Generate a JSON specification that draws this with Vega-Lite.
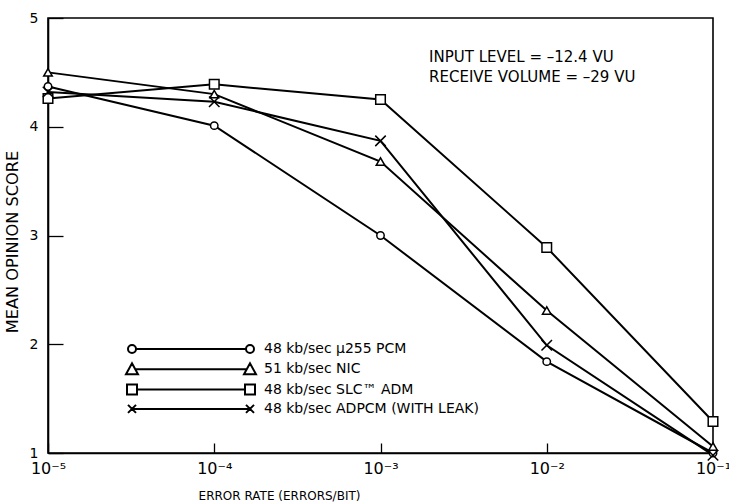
{
  "$schema": "https://vega.github.io/schema/vega-lite/v6.json",
  "width": 665,
  "height": 435,
  "autosize": {"type": "none"},
  "padding": {"left": 48, "top": 18, "right": 16, "bottom": 51},
  "background": "white",
  "config": {
    "font": "DejaVu Sans",
    "view": {"stroke": "black", "strokeWidth": 1.6},
    "axis": {"domainColor": "black", "domainWidth": 1.6, "tickColor": "black", "tickWidth": 1.3, "labelColor": "black", "titleColor": "black", "grid": false, "labelFont": "DejaVu Sans", "titleFont": "DejaVu Sans", "titleFontWeight": "normal"}
  },
  "datasets": {
    "scores": [
      {"series": "48 kb/sec \u03bc255 PCM", "rate": 0.00001, "mos": 4.37},
      {"series": "48 kb/sec \u03bc255 PCM", "rate": 0.0001, "mos": 4.01},
      {"series": "48 kb/sec \u03bc255 PCM", "rate": 0.001, "mos": 3.0},
      {"series": "48 kb/sec \u03bc255 PCM", "rate": 0.01, "mos": 1.84},
      {"series": "48 kb/sec \u03bc255 PCM", "rate": 0.1, "mos": 1.0},
      {"series": "51 kb/sec NIC", "rate": 0.00001, "mos": 4.5},
      {"series": "51 kb/sec NIC", "rate": 0.0001, "mos": 4.3},
      {"series": "51 kb/sec NIC", "rate": 0.001, "mos": 3.68},
      {"series": "51 kb/sec NIC", "rate": 0.01, "mos": 2.31},
      {"series": "51 kb/sec NIC", "rate": 0.1, "mos": 1.06},
      {"series": "48 kb/sec SLC\u2122 ADM", "rate": 0.00001, "mos": 4.26},
      {"series": "48 kb/sec SLC\u2122 ADM", "rate": 0.0001, "mos": 4.39},
      {"series": "48 kb/sec SLC\u2122 ADM", "rate": 0.001, "mos": 4.25},
      {"series": "48 kb/sec SLC\u2122 ADM", "rate": 0.01, "mos": 2.89},
      {"series": "48 kb/sec SLC\u2122 ADM", "rate": 0.1, "mos": 1.29},
      {"series": "48 kb/sec ADPCM (WITH LEAK)", "rate": 0.00001, "mos": 4.32},
      {"series": "48 kb/sec ADPCM (WITH LEAK)", "rate": 0.0001, "mos": 4.23},
      {"series": "48 kb/sec ADPCM (WITH LEAK)", "rate": 0.001, "mos": 3.87},
      {"series": "48 kb/sec ADPCM (WITH LEAK)", "rate": 0.01, "mos": 1.99},
      {"series": "48 kb/sec ADPCM (WITH LEAK)", "rate": 0.1, "mos": 0.98}
    ],
    "notes": [
      {"note": "conditions"}
    ]
  },
  "layer": [
    {
      "data": {"name": "scores"},
      "mark": {"type": "line", "color": "black", "strokeWidth": 2},
      "encoding": {
        "x": {
          "field": "rate", "type": "quantitative",
          "scale": {"type": "log", "domain": [0.00001, 0.1], "nice": false},
          "axis": {
            "title": "ERROR RATE (ERRORS/BIT)",
            "values": [0.00001, 0.0001, 0.001, 0.01, 0.1],
            "labelExpr": "'10\u207b' + ['','\u00b9','\u00b2','\u00b3','\u2074','\u2075'][round(-log(datum.value)/LN10)]",
            "tickSize": -10,
            "labelPadding": 17,
            "labelFontSize": 16,
            "labelFlush": false,
            "labelOverlap": false,
            "labelBound": false,
            "titleFontSize": 12,
            "titleX": 231,
            "titleY": 42,
            "titleBaseline": "middle",
            "titleAlign": "center"
          }
        },
        "y": {
          "field": "mos", "type": "quantitative",
          "scale": {"domain": [1, 5], "nice": false, "zero": false},
          "axis": {
            "title": "MEAN OPINION SCORE",
            "values": [1, 2, 3, 4, 5],
            "format": "d",
            "tickSize": -15,
            "labelPadding": 25,
            "labelFontSize": 14,
            "labelFlush": false,
            "labelOverlap": false,
            "titleFontSize": 16.2,
            "titleX": -36,
            "titleY": 223.5,
            "titleAngle": -90,
            "titleBaseline": "middle",
            "titleAlign": "center"
          }
        },
        "detail": {"field": "series"}
      }
    },
    {
      "data": {"name": "scores"},
      "mark": {"type": "point", "filled": true, "fill": "white", "stroke": "black", "strokeWidth": 1.5, "opacity": 1},
      "encoding": {
        "x": {"field": "rate", "type": "quantitative"},
        "y": {"field": "mos", "type": "quantitative"},
        "shape": {
          "field": "series", "type": "nominal",
          "scale": {
            "domain": ["48 kb/sec \u03bc255 PCM", "51 kb/sec NIC", "48 kb/sec SLC\u2122 ADM", "48 kb/sec ADPCM (WITH LEAK)"],
            "range": ["circle", "triangle-up", "square", "M-1,-1L1,1M-1,1L1,-1"]
          },
          "legend": null
        },
        "size": {
          "field": "series", "type": "nominal",
          "scale": {
            "domain": ["48 kb/sec \u03bc255 PCM", "51 kb/sec NIC", "48 kb/sec SLC\u2122 ADM", "48 kb/sec ADPCM (WITH LEAK)"],
            "range": [55, 110, 95, 60]
          },
          "legend": null
        }
      }
    },
    {
      "data": {"name": "scores"},
      "transform": [{"filter": "datum.rate > 1"}],
      "mark": {"type": "point", "color": "black", "opacity": 1},
      "encoding": {
        "x": {"field": "rate", "type": "quantitative"},
        "y": {"field": "mos", "type": "quantitative"},
        "shape": {
          "field": "series", "type": "nominal",
          "scale": {
            "domain": ["48 kb/sec \u03bc255 PCM", "51 kb/sec NIC", "48 kb/sec SLC\u2122 ADM", "48 kb/sec ADPCM (WITH LEAK)"],
            "range": [
              "M0.8,0L22.8,0M-0.8,0A0.8,0.8 0 1,0 0.8,0A0.8,0.8 0 1,0 -0.8,0ZM22.8,0A0.8,0.8 0 1,0 24.4,0A0.8,0.8 0 1,0 22.8,0Z",
              "M0.6,0L23,0M-1.2,1L0,-1.2L1.2,1ZM22.4,1L23.6,-1.2L24.8,1Z",
              "M1,0L22.6,0M-1,-1H1V1H-1ZM22.6,-1H24.6V1H22.6Z",
              "M0,0L23.6,0M-0.8,-0.8L0.8,0.8M-0.8,0.8L0.8,-0.8M22.8,-0.8L24.4,0.8M22.8,0.8L24.4,-0.8"
            ]
          },
          "legend": {
            "title": null,
            "orient": "none",
            "legendX": 77,
            "legendY": 324,
            "labelOffset": 125,
            "labelFontSize": 14,
            "labelLimit": 400,
            "labelColor": "black",
            "symbolStrokeWidth": 2,
            "rowPadding": 2.3
          }
        }
      }
    },
    {
      "data": {"name": "notes"},
      "mark": {"type": "text", "align": "left", "baseline": "alphabetic", "fontSize": 15, "lineHeight": 20, "color": "black", "font": "DejaVu Sans"},
      "encoding": {
        "x": {"datum": 0.00196, "type": "quantitative"},
        "y": {"datum": 4.595, "type": "quantitative"},
        "text": {"value": ["INPUT LEVEL = \u201312.4 VU", "RECEIVE VOLUME = \u201329 VU"]}
      }
    }
  ],
  "resolve": {"scale": {"shape": "independent"}}
}
